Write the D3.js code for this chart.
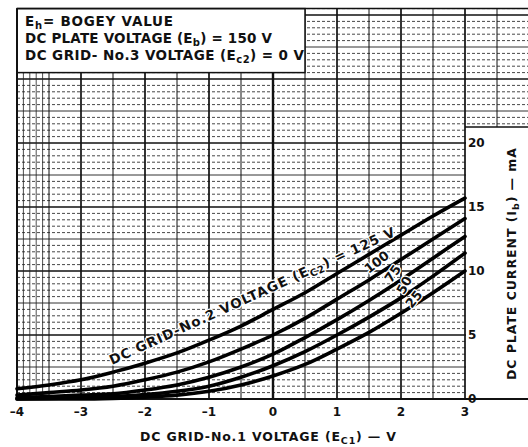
<!DOCTYPE html>
<html>
<head>
<meta charset="utf-8">
<script src="https://cdn.jsdelivr.net/npm/d3@7"></script>
<style>
  body { margin: 0; background: #fff; }
  svg { display: block; }
  text { font-family: "DejaVu Sans", sans-serif; font-weight: bold; fill: #111; }
  .halo { stroke: #fff; stroke-width: 2.5px; paint-order: stroke; stroke-linejoin: round; }
</style>
</head>
<body>
<div id="chart"></div>
<script>
// grid voltage (V) and plate current (mA)
const ec1 = [-4, -3.5, -3, -2.5, -2, -1.5, -1, -0.5, 0, 0.5, 1, 1.5, 2, 2.5, 3];
const ib125 = [0.8, 1.1, 1.5, 2.1, 2.8, 3.6, 4.6, 5.7, 7.0, 8.3, 9.8, 11.3, 12.8, 14.3, 15.7];
const ib100 = [0.3, 0.5, 0.7, 1.0, 1.5, 2.1, 2.9, 3.9, 5.0, 6.3, 7.8, 9.3, 10.9, 12.5, 14.1];
const ib75 = [0.1, 0.2, 0.3, 0.4, 0.7, 1.1, 1.7, 2.5, 3.5, 4.8, 6.2, 7.7, 9.3, 11.0, 12.7];
const ib50 = [0, 0.05, 0.1, 0.2, 0.35, 0.6, 1.0, 1.7, 2.6, 3.7, 5.0, 6.4, 7.9, 9.6, 11.4];
const ib25 = [0, 0, 0, 0.05, 0.15, 0.3, 0.6, 1.1, 1.8, 2.7, 3.9, 5.2, 6.7, 8.3, 10.0];
const curveNames = ["125", "100", "75", "50", "25"];
const xTicks = [-4, -3, -2, -1, 0, 1, 2, 3];
const yTicks = [0, 5, 10, 15, 20];

const W = 528, H = 447;

const svg = d3.select("#chart").append("svg")
    .attr("width", W)
    .attr("height", H);

const x = d3.scaleLinear().domain([-4, 4]).range([17, 529]);
const y = d3.scaleLinear().domain([0, 30.5]).range([399, 8.6]);

// graph paper
const grid = svg.append("g");

d3.range(0, 30.51, 0.5).forEach(v => {
    const major = Math.abs(v % 5) < 1e-6;
    const mid = Math.abs(v % 2.5) < 1e-6;
    grid.append("line")
        .attr("x1", x(-4)).attr("x2", x(4))
        .attr("y1", y(v)).attr("y2", y(v))
        .attr("stroke", major ? "#111" : "#333")
        .attr("stroke-width", major ? 1.6 : (mid ? 1 : 0.9))
        .attr("stroke-dasharray", major || mid ? null : "3,2");
});

d3.range(-4, 4.01, 0.5).forEach(v => {
    const major = Math.abs(v % 1) < 1e-6;
    grid.append("line")
        .attr("x1", x(v)).attr("x2", x(v))
        .attr("y1", y(0)).attr("y2", y(30.5))
        .attr("stroke", "#111")
        .attr("stroke-width", v === 0 ? 2.4 : (major ? 1.7 : 1));
});

// finer verticals in the first column
d3.range(-3.9, -3.5, 0.1).forEach(v => {
    grid.append("line")
        .attr("x1", x(v)).attr("x2", x(v))
        .attr("y1", y(0)).attr("y2", y(25.5))
        .attr("stroke", "#222")
        .attr("stroke-width", 0.8);
});

// white panels: notes box top-left, axis label strip on the right
svg.append("rect")
    .attr("x", x(-4)).attr("y", y(30.5))
    .attr("width", x(0.5) - x(-4)).attr("height", y(25.5) - y(30.5))
    .attr("fill", "#fff").attr("stroke", "#111").attr("stroke-width", 1.5);
svg.append("rect")
    .attr("x", x(3) + 1).attr("y", y(21.25))
    .attr("width", W - x(3)).attr("height", y(0) - y(21.25) - 1)
    .attr("fill", "#fff");
svg.append("line")
    .attr("x1", x(3)).attr("x2", W)
    .attr("y1", y(21.25)).attr("y2", y(21.25))
    .attr("stroke", "#111").attr("stroke-width", 1.5);

// frame
svg.append("line")
    .attr("x1", x(-4)).attr("x2", W)
    .attr("y1", y(0)).attr("y2", y(0))
    .attr("stroke", "#111").attr("stroke-width", 2);
svg.append("line")
    .attr("x1", x(-4)).attr("x2", x(-4))
    .attr("y1", y(0)).attr("y2", y(30.5))
    .attr("stroke", "#111").attr("stroke-width", 2);
svg.append("line")
    .attr("x1", x(-4)).attr("x2", W)
    .attr("y1", y(30.5)).attr("y2", y(30.5))
    .attr("stroke", "#111").attr("stroke-width", 1.5);

// curves
const series = [ib125, ib100, ib75, ib50, ib25];
const line = d3.line()
    .x((d, i) => x(ec1[i]))
    .y(d => y(d))
    .curve(d3.curveMonotoneX);

svg.append("g").selectAll("path")
    .data(series)
    .join("path")
    .attr("id", (d, i) => "c" + curveNames[i])
    .attr("d", line)
    .attr("fill", "none")
    .attr("stroke", "#000")
    .attr("stroke-width", 3.6)
    .attr("stroke-linecap", "round");

// label riding above the 125 V curve (straight, like the lettering guide)
const lab = svg.append("text")
    .attr("class", "halo")
    .attr("font-size", 13.5)
    .attr("transform", `translate(112,365) rotate(-24.5)`)
    .attr("textLength", 312)
    .attr("lengthAdjust", "spacing");
lab.append("tspan").text("DC GRID-No.2 VOLTAGE (E");
lab.append("tspan").attr("font-size", 10).attr("dy", 3).text("C2");
lab.append("tspan").attr("dy", -3).text(") = 125 V");

// small values on the lower curves
const smallLabels = [
    { t: "100", v: 1.62, ib: 10.7, a: -38 },
    { t: "75", v: 1.87, ib: 9.8, a: -55 },
    { t: "50", v: 2.05, ib: 8.9, a: -62 },
    { t: "25", v: 2.2, ib: 7.8, a: -52 }
];
svg.append("g").selectAll("text")
    .data(smallLabels)
    .join("text")
    .attr("class", "halo")
    .attr("font-size", 13)
    .attr("text-anchor", "middle")
    .attr("transform", d => `translate(${x(d.v)},${y(d.ib)}) rotate(${d.a})`)
    .attr("dy", "0.35em")
    .text(d => d.t);

// tick labels
svg.append("g").selectAll("text")
    .data(xTicks)
    .join("text")
    .attr("x", d => x(d))
    .attr("y", 416)
    .attr("text-anchor", "middle")
    .attr("font-size", 12)
    .text(d => d < 0 ? "\u2013" + Math.abs(d) : d);

svg.append("g").selectAll("text")
    .data(yTicks)
    .join("text")
    .attr("x", x(3) + 3)
    .attr("y", d => y(d))
    .attr("dy", "0.35em")
    .attr("font-size", 12)
    .text(d => d);

// axis titles
const xt = svg.append("text")
    .attr("x", 140).attr("y", 441)
    .attr("font-size", 12.5)
    .attr("textLength", 256)
    .attr("lengthAdjust", "spacing");
xt.append("tspan").text("DC GRID-No.1 VOLTAGE (E");
xt.append("tspan").attr("font-size", 9.5).attr("dy", 3).text("C1");
xt.append("tspan").attr("dy", -3).text(") \u2014 V");

const yt = svg.append("text")
    .attr("transform", `translate(516,380) rotate(-90)`)
    .attr("font-size", 12.5)
    .attr("textLength", 232)
    .attr("lengthAdjust", "spacing");
yt.append("tspan").text("DC PLATE CURRENT (I");
yt.append("tspan").attr("font-size", 9.5).attr("dy", 3).text("b");
yt.append("tspan").attr("dy", -3).text(") \u2014 mA");

// notes in the box
const notes = svg.append("g").attr("font-size", 13.5);
const n1 = notes.append("text").attr("x", 25).attr("y", 26)
    .attr("textLength", 148).attr("lengthAdjust", "spacing");
n1.append("tspan").text("E");
n1.append("tspan").attr("font-size", 10).attr("dy", 3).text("h");
n1.append("tspan").attr("dy", -3).text("= BOGEY VALUE");
const n2 = notes.append("text").attr("x", 25).attr("y", 43)
    .attr("textLength", 247).attr("lengthAdjust", "spacing");
n2.append("tspan").text("DC PLATE VOLTAGE (E");
n2.append("tspan").attr("font-size", 10).attr("dy", 3).text("b");
n2.append("tspan").attr("dy", -3).text(") = 150 V");
const n3 = notes.append("text").attr("x", 25).attr("y", 60)
    .attr("textLength", 279).attr("lengthAdjust", "spacing");
n3.append("tspan").text("DC GRID- No.3 VOLTAGE (E");
n3.append("tspan").attr("font-size", 10).attr("dy", 3).text("c2");
n3.append("tspan").attr("dy", -3).text(") = 0 V");
</script>
</body>
</html>
